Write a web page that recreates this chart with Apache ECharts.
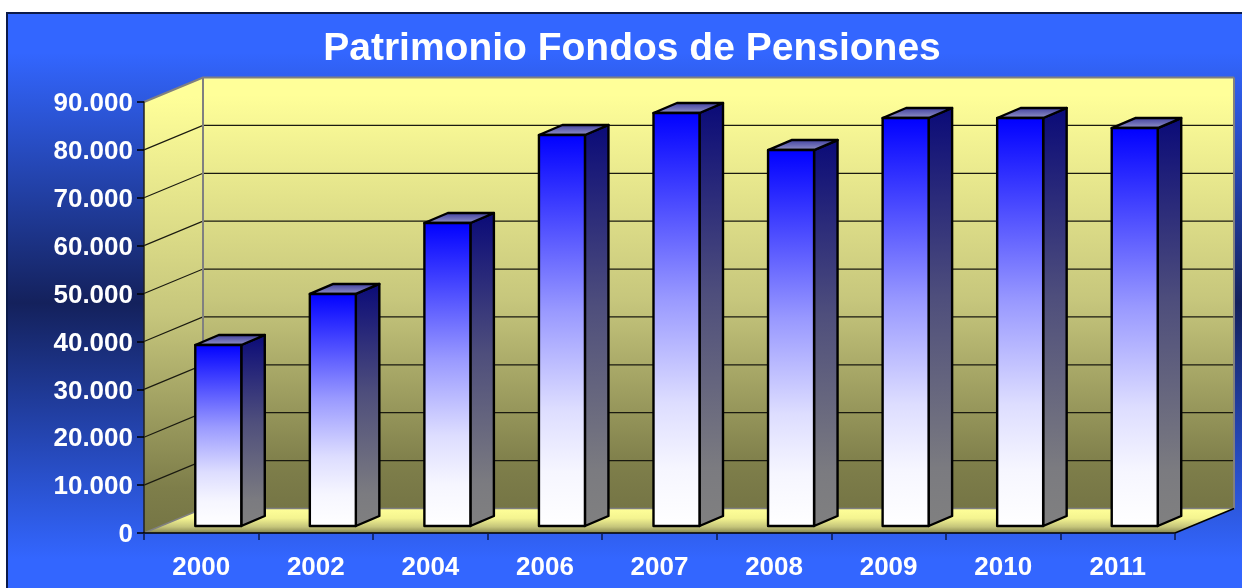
<!DOCTYPE html>
<html><head><meta charset="utf-8">
<style>html,body{margin:0;padding:0;background:#fff}#c{width:1242px;height:588px}</style>
<script src="https://cdn.jsdelivr.net/npm/echarts@6/dist/echarts.min.js"></script>
</head><body><div id="c"></div>
<script>
const titleText = 'Patrimonio Fondos de Pensiones';
const categories = ['2000','2002','2004','2006','2007','2008','2009','2010','2011'];
const patrimonio = [37800,48450,63270,81650,86240,78500,85200,85200,83100];
const yTicks = [0,10000,20000,30000,40000,50000,60000,70000,80000,90000];

const font = '"Liberation Sans", Arial, sans-serif';
const DEPTH = {x:59, y:-24.5};       // full chart depth
const BAR = {x0:17.5, y0:-7, x1:41, y1:-17, width:46};
const G = (stops)=>({type:'linear',x:0,y:0,x2:0,y2:1,colorStops:stops.map(s=>({offset:s[0],color:s[1]}))});
const wallFill = G([[0,'#FFFF99'],[0.04,'#FFFF99'],[0.52,'#C6C67C'],[0.9,'#7E7E4A'],[1,'#757545']]);
const floorFill = G([[0,'#FFFF99'],[0.4,'#F4F490'],[0.75,'#C4C47A'],[1,'#84844F']]);
const frontFill = G([[0,'#0000FF'],[0.45,'#9999FF'],[0.7,'#DDDDFF'],[0.86,'#F6F6FF'],[1,'#FFFFFF']]);
const sideFill = G([[0,'#0A0A78'],[0.45,'#4E4E7C'],[0.86,'#7B7B80'],[1,'#808080']]);
const topFill = G([[0,'#3A3A9C'],[1,'#9A9ACC']]);

const chart = echarts.init(document.getElementById('c'),null,{renderer:'canvas'});

function renderWalls(params, api){
  const o = api.coord([0,0]);
  const band = api.size([1,0])[0];
  const lo = [o[0]-band/2, o[1]];
  const hi = [lo[0], api.coord([0,90000])[1]];
  const r = lo[0] + band*categories.length;
  const dx = DEPTH.x, dy = DEPTH.y;
  const kids = [];
  kids.push({type:'polygon',shape:{points:[[lo[0],hi[1]],[lo[0]+dx,hi[1]+dy],[lo[0]+dx,lo[1]+dy],lo]},
    style:{fill:wallFill,stroke:null}});
  kids.push({type:'polygon',shape:{points:[[lo[0]+dx,hi[1]+dy],[r+dx,hi[1]+dy],[r+dx,lo[1]+dy],[lo[0]+dx,lo[1]+dy]]},
    style:{fill:wallFill,stroke:null}});
  kids.push({type:'polygon',shape:{points:[[lo[0]+dx,lo[1]+dy],[r+dx,lo[1]+dy],[r,lo[1]],lo]},
    style:{fill:floorFill,stroke:null}});
  yTicks.forEach(t=>{
    if(t===0) return;
    const y = api.coord([0,t])[1];
    const color = t===90000 ? '#808080' : '#1a1a10';
    const w = t===90000 ? 2 : 1.2;
    kids.push({type:'polyline',shape:{points:[[lo[0],y],[lo[0]+dx,y+dy],[r+dx,y+dy]]},style:{fill:null,stroke:color,lineWidth:w}});
  });
  kids.push({type:'polyline',shape:{points:[[lo[0]+dx,hi[1]+dy],[lo[0]+dx,lo[1]+dy]]},style:{fill:null,stroke:'#808080',lineWidth:2}});
  kids.push({type:'polyline',shape:{points:[[r+dx,hi[1]+dy],[r+dx,lo[1]+dy]]},style:{fill:null,stroke:'#808080',lineWidth:2}});
  kids.push({type:'polyline',shape:{points:[lo,[lo[0]+dx,lo[1]+dy],[r+dx,lo[1]+dy]]},style:{fill:null,stroke:'#808080',lineWidth:1.5}});
  kids.push({type:'polyline',shape:{points:[[r,lo[1]],[r+dx,lo[1]+dy]]},style:{fill:null,stroke:'#000',lineWidth:1.5}});
  return {type:'group',children:kids};
}

function renderBar(params, api){
  const base = api.coord([api.value(0),0]);
  const top = api.coord([api.value(0),api.value(1)]);
  const w = BAR.width, ddx = BAR.x1-BAR.x0, ddy = BAR.y1-BAR.y0;
  const xl = base[0]-w/2+BAR.x0-0.5, xr = xl+w;
  const yb = base[1]+BAR.y0, yt = top[1]+BAR.y0;
  const line = {stroke:'#000',lineWidth:2.4,lineJoin:'round'};
  return {type:'group',children:[
    {type:'polygon',shape:{points:[[xr,yt],[xr+ddx,yt+ddy],[xr+ddx,yb+ddy],[xr,yb]]},
      style:Object.assign({fill:sideFill},line)},
    {type:'polygon',shape:{points:[[xl,yt],[xl+ddx,yt+ddy],[xr+ddx,yt+ddy],[xr,yt]]},
      style:Object.assign({fill:topFill},line)},
    {type:'polygon',shape:{points:[[xl,yt],[xr,yt],[xr,yb],[xl,yb]]},
      style:Object.assign({fill:frontFill},line)}
  ]};
}

chart.setOption({
  animation:false,
  backgroundColor:'#fff',
  graphic:[{type:'rect',z:-10,silent:true,
    shape:{x:7,y:13,width:1240,height:580},
    style:{fill:{type:'linear',x:0,y:0,x2:0,y2:1,colorStops:[
      {offset:0,color:'#3366FF'},{offset:0.07,color:'#3366FF'},
      {offset:0.5,color:'#14215C'},
      {offset:0.94,color:'#3366FF'},{offset:1,color:'#3366FF'}]},
      stroke:'#0B1A4A',lineWidth:2}}],
  title:{text:titleText,left:627,top:25,textAlign:'center',
    textStyle:{color:'#fff',fontFamily:font,fontWeight:'bold',fontSize:39}},
  grid:{left:144,top:102,width:1031,height:431,containLabel:false},
  xAxis:{type:'category',data:categories,z:5,
    axisLine:{lineStyle:{color:'#000',width:1.5}},
    axisTick:{show:true,alignWithLabel:false,length:7,lineStyle:{color:'#0B1A4A',width:1.5}},
    axisLabel:{color:'#fff',fontFamily:font,fontWeight:'bold',fontSize:26,margin:22,interval:0},
    splitLine:{show:false}},
  yAxis:{type:'value',min:0,max:90000,interval:10000,z:5,
    axisLine:{show:true,lineStyle:{color:'#222',width:1.5}},
    axisTick:{show:true,length:7,lineStyle:{color:'#000',width:1.5}},
    axisLabel:{color:'#fff',fontFamily:font,fontWeight:'bold',fontSize:26,margin:11,
      rich:{v:{color:'#fff',fontFamily:font,fontWeight:'bold',fontSize:26,padding:[4,0,0,0]}},
      formatter:v=>'{v|'+String(v).replace(/\B(?=(\d{3})+$)/g,'.')+'}'},
    splitLine:{show:false}},
  series:[
    {type:'custom',coordinateSystem:'cartesian2d',z:1,silent:true,clip:false,renderItem:renderWalls,
      data:[[0,0]],encode:{x:0,y:1}},
    {type:'custom',coordinateSystem:'cartesian2d',z:6,silent:true,clip:false,renderItem:renderBar,
      data:categories.map((c,i)=>[i,patrimonio[i]]),encode:{x:0,y:1}}
  ]
});
</script></body></html>
